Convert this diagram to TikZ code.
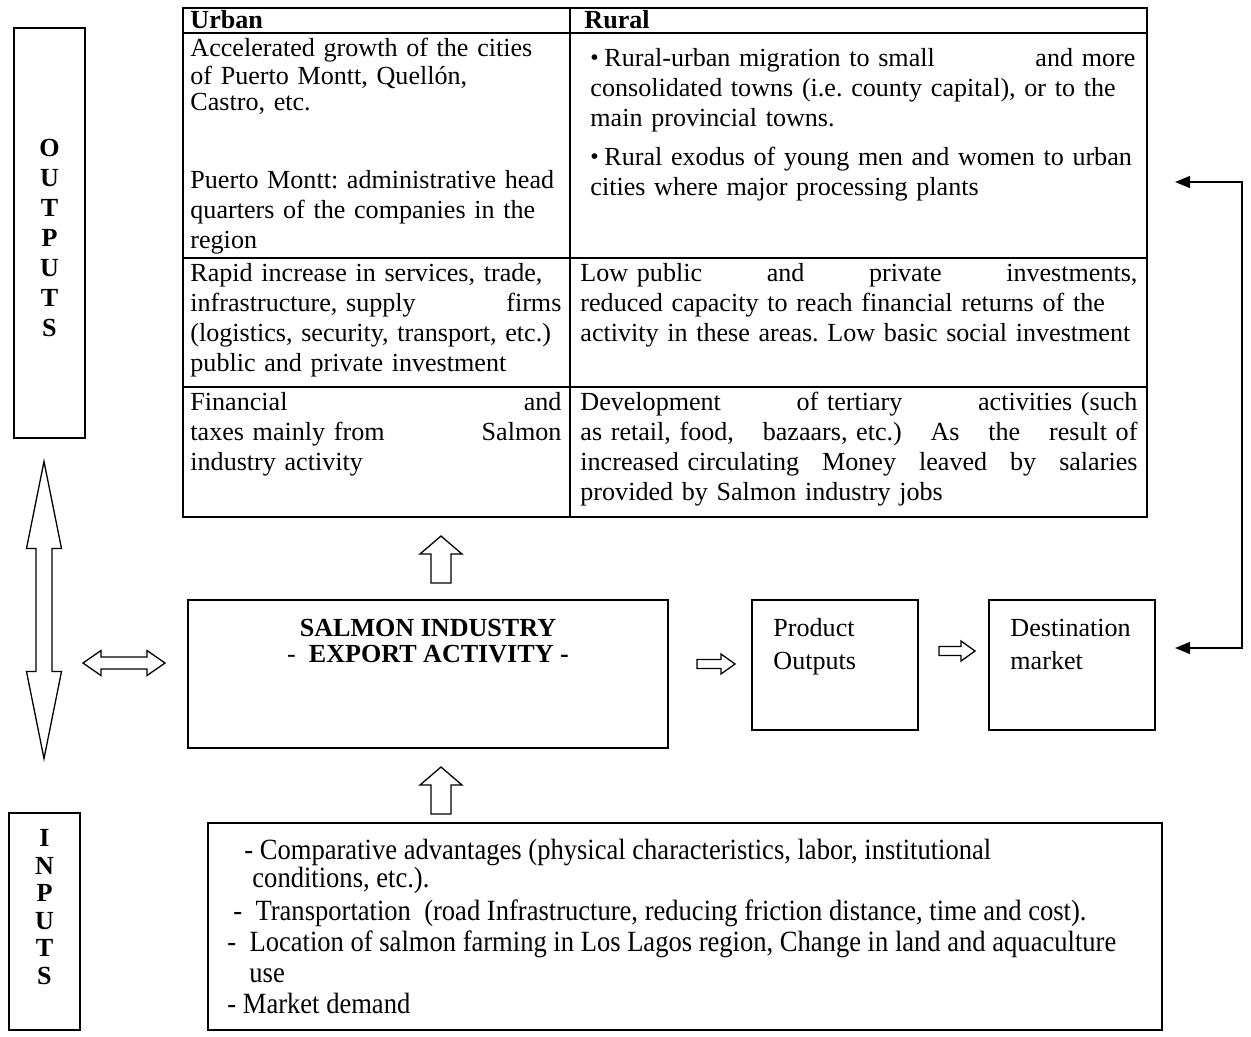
\documentclass[tikz,border=0pt]{standalone}
\usepackage{fontspec}
\setmainfont{Liberation Serif}
\newfontfamily\narrowserif[FakeStretch=0.905]{Liberation Serif}
\usetikzlibrary{arrows.meta}

% one justified line of a table cell
\newcommand{\jline}[1]{\makebox[\linewidth][s]{#1}}
\newcommand{\tabfont}{\fontsize{12}{13.8}\selectfont}
\newcommand{\inpfont}{\narrowserif\fontsize{13.5}{15.5}\selectfont}
% list bullet followed by its gap
\newcommand{\bul}{{\fontsize{11}{11}\selectfont\raisebox{0.5pt}{\textbullet}}\hspace{2.6pt}}

\tikzset{
  frame/.style={draw, line width=0.8pt},
  boxnode/.style={draw, line width=0.7pt, inner sep=0pt},
  cell/.style={anchor=north west, inner sep=0pt, align=left, font=\tabfont},
  lbl/.style={anchor=base west, inner sep=0pt, font=\tabfont},
  inp/.style={anchor=base west, inner sep=0pt, font=\inpfont},
  blk/.style={draw, line width=0.6pt, fill=white, line join=miter},
  fb/.style={line width=0.8pt, {Triangle[length=7pt,width=5.5pt]}-{Triangle[length=7pt,width=5.5pt]}},
  % block arrow pointing up: length, head length, head width, shaft width
  pics/uparr/.style n args={4}{code={
    \draw[blk] (0,0) -- ({#3/2},{#2}) -- ({#4/2},{#2}) -- ({#4/2},{#1})
      -- ({-#4/2},{#1}) -- ({-#4/2},{#2}) -- ({-#3/2},{#2}) -- cycle;}},
  % block arrow pointing right (tip at origin)
  pics/rtarr/.style n args={4}{code={
    \draw[blk] (0,0) -- ({-#2},{-#3/2}) -- ({-#2},{-#4/2}) -- ({-#1},{-#4/2})
      -- ({-#1},{#4/2}) -- ({-#2},{#4/2}) -- ({-#2},{#3/2}) -- cycle;}},
  % double-headed block arrow, centred on origin, horizontal
  pics/dblarr/.style n args={4}{code={
    \draw[blk] ({-#1/2},0) -- ({-#1/2+#2},{-#3/2}) -- ({-#1/2+#2},{-#4/2})
      -- ({#1/2-#2},{-#4/2}) -- ({#1/2-#2},{-#3/2}) -- ({#1/2},0)
      -- ({#1/2-#2},{#3/2}) -- ({#1/2-#2},{#4/2}) -- ({-#1/2+#2},{#4/2})
      -- ({-#1/2+#2},{#3/2}) -- cycle;}},
}

\begin{document}
\frenchspacing
\begin{tikzpicture}[x=0.46pt,y=-0.46pt]
\useasboundingbox (0,0) rectangle (1251,1036);

% ---------- outputs table ----------
\draw[frame] (183,8) rectangle (1147,517);
\draw[frame] (570,8) -- (570,517);
\draw[frame] (183,33) -- (1147,33);
\draw[frame] (183,258) -- (1147,258);
\draw[frame] (183,387) -- (1147,387);

\node[lbl, font=\tabfont\bfseries] (hurban) at (190,28) {Urban};
\node[lbl, font=\tabfont\bfseries] (hrural) at (584,28) {Rural};

% left cell of the first row: two paragraphs with different spacing
\node[cell, text width=170.66pt, font=\fontsize{12}{11.96}\selectfont] (u1a) at (190,37.8) {\strut Accelerated growth of the cities\\
of Puerto Montt, Quellón,\\
Castro, etc.};
\node[cell, text width=170.66pt] (u1b) at (190,167) {\strut\jline{Puerto Montt: administrative head}\\
\jline{quarters of the companies in the}\\
region};

\node[cell, text width=170.66pt] (u2) at (190,260) {\strut\jline{Rapid increase in services, trade,}\\
\jline{infrastructure, supply\hfill firms}\\
\jline{(logistics, security, transport, etc.)}\\
public and private investment};

\node[cell, text width=170.66pt] (u3) at (190,389) {\strut\jline{Financial\hfill and}\\
\jline{taxes mainly from\hfill Salmon}\\
industry activity};

\node[cell, text width=250.7pt] (r1) at (590,45) {\strut\jline{\bul Rural-urban migration to small\hfill and more}\\
\jline{consolidated towns (i.e. county capital), or to the}\\
main provincial towns.\\[4pt]
\jline{\bul Rural exodus of young men and women to urban}\\
cities where major processing plants};

\node[cell, text width=256.22pt] (r2) at (580,260) {\strut\jline{Low public\hfill and\hfill private\hfill investments,}\\
\jline{reduced capacity to reach financial returns of the}\\
activity in these areas. Low basic social investment};

\node[cell, text width=256.22pt] (r3) at (580,389) {\strut\jline{Development\hfill of tertiary\hfill activities (such}\\
\jline{as retail, food,\hfill bazaars, etc.)\hfill As\hfill the\hfill result of}\\
\jline{increased circulating\hfill Money\hfill leaved\hfill by\hfill salaries}\\
provided by Salmon industry jobs};

% ---------- side labels ----------
\node[boxnode, minimum width=32.66pt, minimum height=188.6pt] (outbox) at (49.5,233) {};
\node[anchor=north, inner sep=0pt, align=center, font=\tabfont\bfseries] (outlbl) at (outbox.center |- 0,135) {\strut O\\U\\T\\P\\U\\T\\S};

\node[boxnode, minimum width=32.66pt, minimum height=99.82pt] (inbox) at (44.5,921.5) {};
\node[anchor=north, inner sep=0pt, align=center, font=\fontsize{12}{12.65}\selectfont\bfseries] (inlbl) at (inbox.center |- 0,827) {\strut I\\N\\P\\U\\T\\S};

\pic[rotate=90] (vdbl) at (44,610) {dblarr={297}{87}{35}{16}};
\pic (hdbl) at (124,663) {dblarr={82}{18}{25}{12}};

% ---------- central chain ----------
\node[boxnode, minimum width=220.8pt, minimum height=68.08pt] (salmon) at (428,674) {};
\node[anchor=base, inner sep=0pt, font=\tabfont\bfseries] (s1) at (salmon.center |- 0,636) {SALMON INDUSTRY};
\node[anchor=base, inner sep=0pt, font=\tabfont] (s2) at (salmon.center |- 0,662) {-\ \textbf{ EXPORT ACTIVITY -}};

\node[boxnode, minimum width=76.36pt, minimum height=59.8pt] (prod) at (835,665) {};
\node[lbl] (p1) at (773,636) {Product};
\node[lbl] (p2) at (773,669) {Outputs};

\node[boxnode, minimum width=76.36pt, minimum height=59.8pt] (dest) at (1072,665) {};
\node[lbl] (d1) at (1010,636) {Destination};
\node[lbl] (d2) at (1010,669) {market};

\pic (uptop) at (441,536) {uparr={47}{18}{42}{20}};
\pic (upbot) at (441,767) {uparr={47}{18}{42}{20}};
\pic (ra1) at (735,664) {rtarr={38}{14}{20}{9}};
\pic (ra2) at (975,651) {rtarr={36}{14}{20}{9}};

% feedback from the destination market to the rural column
\coordinate (fbtop) at (1175,182);
\coordinate (fbbot) at (1175,648);
\draw[fb] (fbtop) -- (1242,182) -- (1242,648) -- (fbbot);

% ---------- inputs ----------
\node[boxnode, minimum width=438.84pt, minimum height=95.22pt] (inputs) at (685,926.5) {};
\node[inp] (i1) at (244,859) {- Comparative advantages (physical characteristics, labor, institutional};
\node[inp] (i2) at (252,887) {conditions, etc.).};
\node[inp] (i3) at (233,920) {-\ \ Transportation\ \ (road Infrastructure, reducing friction distance, time and cost).};
\node[inp] (i4) at (227,951) {-\ \ Location of salmon farming in Los Lagos region, Change in land and aquaculture};
\node[inp] (i5) at (249,982) {use};
\node[inp] (i6) at (227,1013) {- Market demand};
\end{tikzpicture}
\end{document}
